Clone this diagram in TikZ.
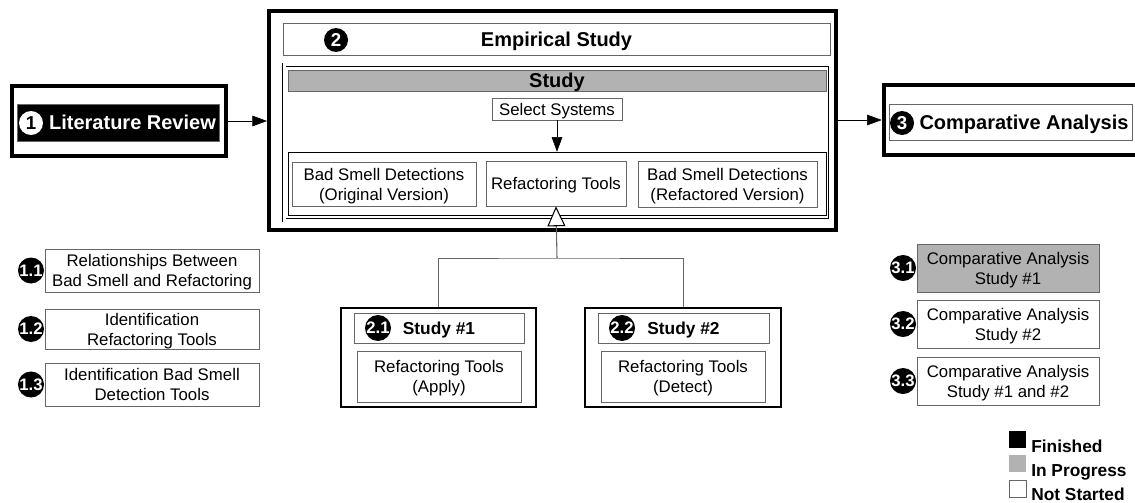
\documentclass[tikz,border=0pt]{standalone}
\usepackage{fontspec}
\setmainfont{Liberation Sans}
\usetikzlibrary{arrows.meta}
\definecolor{progress gray}{rgb}{0.7, 0.7, 0.7}
\definecolor{line gray}{rgb}{0.4, 0.4, 0.4}
\tikzset{
	plain box/.style={draw=line gray, fill=white, rectangle, inner sep=0pt, align=center, text depth=0pt, font=\fontsize{12.6}{15}\selectfont},
	phase box/.style={draw=black, line width=3.5pt, rectangle, inner sep=0pt},
	head text/.style={text depth=0pt, font=\bfseries\fontsize{15}{18}\selectfont},
	big num/.style={circle, fill=black, text=white, inner sep=0pt, minimum size=18pt, font=\bfseries\fontsize{14}{14}\selectfont},
	step num/.style={circle, fill=black, text=white, inner sep=0pt, minimum size=19.5pt, font=\bfseries\fontsize{12.5}{12.5}\selectfont},
	flow/.style={-{Triangle[length=11pt, width=8pt]}},
	key text/.style={anchor=base west, inner sep=0pt, font=\bfseries\fontsize{13}{13}\selectfont}
}
\begin{document}
\begin{tikzpicture}[x=0.75pt, y=-0.75pt]
			\clip (0, 0) rectangle (1135, 503);
			% part for literature review
			\begin{scope}
				\node[phase box, minimum width=160.5pt, minimum height=52.5pt] (lit frame) at (119, 121) {};
				\node[draw=line gray, fill=black, inner sep=0pt, minimum width=151.5pt, minimum height=27.75pt] (lit) at (118, 122.5) {};
				\node[big num, fill=white, text=black] (n1) at (31, 123) {1};
				\node[head text, text=white] (lit label) at (132.5, 122.5) {Literature Review};
			\end{scope}
			% part for empirical study
			\begin{scope}
				\node[draw=black, line width=3pt, minimum width=425.25pt, minimum height=164.25pt] (emp frame) at (552.5, 120.5) {};
				\node[plain box, head text, minimum width=410.25pt, minimum height=24pt] (emp title) at (556.5, 39) {Empirical Study};
				\node[big num] (n2) at (336, 40) {2};
				\node[draw=black, line width=0.6pt, double, double distance=2.25pt, minimum width=409.5pt, minimum height=116.25pt] (study frame) at (557, 142.5) {};
				\node[plain box, head text, fill=progress gray, minimum width=403.5pt, minimum height=15.75pt] (study bar) at (557, 80.5) {Study};
				\node[plain box, minimum width=97.5pt, minimum height=16.5pt] (select) at (557, 109) {Select Systems};
				\node[draw=black, minimum width=403.5pt, minimum height=47.25pt] (row) at (557, 183.5) {};
				\node[plain box, minimum width=138pt, minimum height=33pt] (orig) at (384, 184) {Bad Smell Detections\\(Original Version)};
				\node[plain box, minimum width=105pt, minimum height=33.75pt] (tools) at (556, 183.5) {Refactoring Tools};
				\node[plain box, minimum width=134.25pt, minimum height=34.5pt] (refac) at (727.5, 184) {Bad Smell Detections\\(Refactored Version)};
				\draw[flow] (select) -- (row);
			\end{scope}
			% part for study #1 and #2
			\begin{scope}
				\node[draw=black, line width=1.2pt, minimum width=146.25pt, minimum height=74.25pt] (s1) at (438.5, 357.5) {};
				\node[plain box, font=\bfseries\fontsize{13}{13}\selectfont, minimum width=127.5pt, minimum height=22.5pt] (s1 head) at (439, 328) {Study \#1};
				\node[step num] (n21) at (378, 328) {2.1};
				\node[plain box, minimum width=123pt, minimum height=38.25pt] (s1 body) at (439, 376.5) {Refactoring Tools\\(Apply)};
				\node[draw=black, line width=1.2pt, minimum width=147pt, minimum height=74.25pt] (s2) at (683, 357.5) {};
				\node[plain box, font=\bfseries\fontsize{13}{13}\selectfont, minimum width=128.25pt, minimum height=22.5pt] (s2 head) at (683.5, 328) {Study \#2};
				\node[step num] (n22) at (622, 328) {2.2};
				\node[plain box, minimum width=123pt, minimum height=38.25pt] (s2 body) at (683, 376.5) {Refactoring Tools\\(Detect)};
				\coordinate (join) at (557, 258);
				\draw[line gray, line width=0.6pt] (s1) |- (join) -| (s2);
				\draw[line gray, line width=0.8pt, -{Triangle[color=black, fill=white, length=15pt, width=13.5pt]}] (join) -- (tools.south);
			\end{scope}
			% part for literature review steps
			\begin{scope}
				\node[plain box, minimum width=160.5pt, minimum height=32.25pt] (r1) at (152, 270.5) {Relationships Between\\Bad Smell and Refactoring};
				\node[plain box, minimum width=160.5pt, minimum height=30pt] (r2) at (152, 329) {Identification\\Refactoring Tools};
				\node[plain box, minimum width=160.5pt, minimum height=32.25pt] (r3) at (152, 384.5) {Identification Bad Smell\\Detection Tools};
				\node[step num] (n11) at (31, 270.5) {1.1};
				\node[step num] (n12) at (31, 329) {1.2};
				\node[step num] (n13) at (31, 384.5) {1.3};
			\end{scope}
			% part for comparative analysis
			\begin{scope}
				\node[phase box, minimum width=192pt, minimum height=52.5pt] (comp frame) at (1012, 120) {};
				\node[plain box, minimum width=182.25pt, minimum height=27pt] (comp) at (1010.5, 122) {};
				\node[big num] (n3) at (902, 123) {3};
				\node[head text] (comp label) at (1024, 122) {Comparative Analysis};
				\node[plain box, fill=progress gray, minimum width=136.5pt, minimum height=36pt] (c1) at (1008, 268) {Comparative Analysis\\Study \#1};
				\node[plain box, minimum width=136.5pt, minimum height=36pt] (c2) at (1008, 324) {Comparative Analysis\\Study \#2};
				\node[plain box, minimum width=136.5pt, minimum height=36pt] (c3) at (1008, 381) {Comparative Analysis\\Study \#1 and \#2};
				\node[step num] (n31) at (903, 268) {3.1};
				\node[step num] (n32) at (903, 324) {3.2};
				\node[step num] (n33) at (903, 381) {3.3};
			\end{scope}
			% arrows between phases
			\draw[flow] (lit frame.east) -- (lit frame.east -| emp frame.west);
			\draw[flow] (emp frame.east |- comp frame.west) -- (comp frame.west);
			% legend
			\node[fill=black, inner sep=0pt, minimum size=12.75pt] (key done) at (1017.5, 439) {};
			\node[fill=progress gray, inner sep=0pt, minimum size=12.75pt] (key prog) at (1017.5, 463.5) {};
			\node[draw=line gray, inner sep=0pt, minimum size=12.75pt] (key none) at (1017.5, 488.5) {};
			\node[key text] (done label) at (1031, 452) {Finished};
			\node[key text] (prog label) at (1031, 476) {In Progress};
			\node[key text] (none label) at (1031, 500) {Not Started};
		\end{tikzpicture}
\end{document}
